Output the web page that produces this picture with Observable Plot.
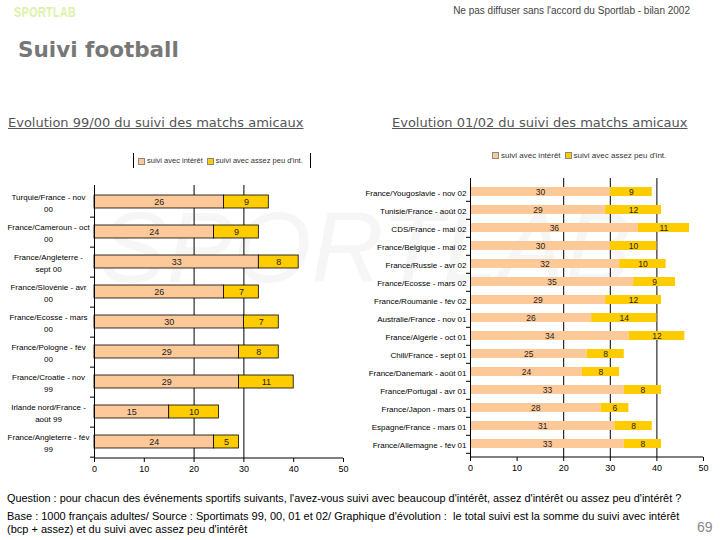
<!DOCTYPE html>
<html><head><meta charset="utf-8">
<script src="https://cdn.jsdelivr.net/npm/d3@7"></script>
<script src="https://cdn.jsdelivr.net/npm/@observablehq/plot@0.6"></script>
<style>
body{margin:0;width:720px;height:540px;position:relative;background:#fff;font-family:"Liberation Sans",Arial,sans-serif;overflow:hidden}
.abs{position:absolute;white-space:nowrap}
.chart{position:absolute;top:170px}
.sw{display:inline-block;width:5px;height:5px;border:1px solid #888;margin:0 2px 0 4px;vertical-align:middle}
</style></head><body>
<div class="abs" style="left:100px;top:190px;font:italic 100px 'Liberation Sans';color:#f6f6f6;z-index:0">SPORTLAB</div>
<div class="abs" style="left:14px;top:3px;font:bold 15px 'Liberation Sans';color:#dcf2a8;transform:scaleX(0.72);transform-origin:left top;letter-spacing:0.5px">SPORTLAB</div>
<div class="abs" style="right:30px;top:5px;font:10px 'Liberation Sans';color:#444">Ne pas diffuser sans l'accord du Sportlab - bilan 2002</div>
<div class="abs" style="left:18px;top:37px;font:bold 21.5px 'DejaVu Sans';color:#777">Suivi football</div>
<div class="abs" style="left:8px;top:115px;font:13px 'DejaVu Sans';color:#555;text-decoration:underline">Evolution 99/00 du suivi des matchs amicaux</div>
<div class="abs" style="left:392px;top:115px;font:13px 'DejaVu Sans';color:#555;text-decoration:underline">Evolution 01/02 du suivi des matchs amicaux</div>
<div class="abs" id="legL" style="left:133px;top:153px;height:15px;width:176px;border-left:1px solid #000;border-right:1px solid #000;font:7.5px 'Liberation Sans';color:#333;line-height:15px;z-index:2"></div>
<div class="abs" id="legR" style="left:488px;top:149px;height:14px;font:8px 'Liberation Sans';color:#333;line-height:14px;z-index:2"></div>
<div id="c1" class="chart" style="left:0px;z-index:1"></div>
<div id="c2" class="chart" style="left:360px;z-index:1"></div>
<div class="abs" style="left:7px;top:492px;font:10.9px 'Liberation Sans';color:#000">Question : pour chacun des événements sportifs suivants, l'avez-vous suivi avec beaucoup d'intérêt, assez d'intérêt ou assez peu d'intérêt ?</div>
<div class="abs" style="left:7px;top:510px;font:11px 'Liberation Sans';color:#000;line-height:13px">Base : 1000 français adultes/ Source : Sportimats 99, 00, 01 et 02/ Graphique d'évolution :&nbsp; le total suivi est la somme du suivi avec intérêt<br>(bcp + assez) et du suivi avec assez peu d'intérêt</div>
<div class="abs" style="left:697px;top:519px;font:14px 'Liberation Sans';color:#888">69</div>
<script>
const series = ["suivi avec intérêt", "suivi avec assez peu d'int."];
const colors = ["#fdc998", "#ffcc00"];
const xTicks = [0, 10, 20, 30, 40, 50];

const catsLeft = ["Turquie/France - nov 00", "France/Cameroun - oct 00", "France/Angleterre - sept 00", "France/Slovénie - avr 00", "France/Ecosse - mars 00", "France/Pologne - fév 00", "France/Croatie - nov 99", "Irlande nord/France - août 99", "France/Angleterre - fév 99"];
const labelsLeft = ["Turquie/France - nov\n00", "France/Cameroun - oct\n00", "France/Angleterre -\nsept 00", "France/Slovénie - avr\n00", "France/Ecosse - mars\n00", "France/Pologne - fév\n00", "France/Croatie - nov\n99", "Irlande nord/France -\naoût 99", "France/Angleterre - fév\n99"];
const interestLeft = [26, 24, 33, 26, 30, 29, 29, 15, 24];
const peuLeft = [9, 9, 8, 7, 7, 8, 11, 10, 5];
const gridLeft = [20, 30];

const catsRight = ["France/Yougoslavie - nov 02", "Tunisie/France - août 02", "CDS/France - mai 02", "France/Belgique - mai 02", "France/Russie - avr 02", "France/Ecosse - mars 02", "France/Roumanie - fév 02", "Australie/France - nov 01", "France/Algérie - oct 01", "Chili/France - sept 01", "France/Danemark - août 01", "France/Portugal - avr 01", "France/Japon - mars 01", "Espagne/France - mars 01", "France/Allemagne - fév 01"];
const interestRight = [30, 29, 36, 30, 32, 35, 29, 26, 34, 25, 24, 33, 28, 31, 33];
const peuRight = [9, 12, 11, 10, 10, 9, 12, 14, 12, 8, 8, 8, 6, 8, 8];
const gridRight = [20, 30, 40];

function chart(o) {
  const rows = o.cats.flatMap((c, i) => [
    {cat: c, s: series[0], v: o.interest[i]},
    {cat: c, s: series[1], v: o.peu[i]}
  ]);
  const step = (o.height - o.marginTop - o.marginBottom) / o.cats.length;
  const bottomLine = (index, scales, values, dims) => {
    const g = d3.create("svg:g");
    g.append("line")
      .attr("x1", dims.marginLeft).attr("x2", dims.width - dims.marginRight)
      .attr("y1", dims.height - dims.marginBottom).attr("y2", dims.height - dims.marginBottom)
      .attr("stroke", "#000");
    return g.node();
  };
  return Plot.plot({
    width: 360, height: o.height,
    marginLeft: o.marginLeft, marginRight: 17, marginTop: o.marginTop, marginBottom: o.marginBottom,
    style: {fontFamily: "Liberation Sans, Arial, sans-serif", background: "transparent", color: "#000"},
    x: {domain: [0, 50]},
    y: {domain: o.cats, paddingInner: o.pad, paddingOuter: o.pad / 2},
    color: {domain: series, range: colors},
    marks: [
      Plot.ruleX(o.grid, {stroke: "#000", strokeWidth: 1}),
      Plot.barX(rows, Plot.stackX({y: "cat", x: "v", fill: "s", stroke: o.barStroke, strokeWidth: 0.8})),
      Plot.text(rows, Plot.stackX({y: "cat", x: "v", z: "s", text: d => String(d.v), fontSize: o.valSize, fill: "#222"})),
      Plot.ruleX([0], {stroke: "#000"}),
      bottomLine,
      Plot.axisX({ticks: xTicks, tickSize: 4, tickPadding: 3, fontSize: 9, label: null}),
      Plot.axisY({tickSize: 0, tickPadding: 0, label: null, fontSize: o.labSize, textAnchor: o.anchor, dx: o.labDx, lineHeight: 1.5,
        tickFormat: d => o.labels[o.cats.indexOf(d)]}),
      Plot.axisY({tickSize: 4, tickFormat: () => "", label: null, dy: step / 2})
    ]
  });
}

document.getElementById("c1").append(chart({
  cats: catsLeft, labels: labelsLeft, interest: interestLeft, peu: peuLeft, grid: gridLeft,
  height: 310, marginLeft: 94, marginTop: 15, marginBottom: 22, pad: 0.57,
  barStroke: "#000", valSize: 9, labSize: 8, anchor: "middle", labDx: -46
}));
document.getElementById("c2").append(chart({
  cats: catsRight, labels: catsRight, interest: interestRight, peu: peuRight, grid: gridRight,
  height: 310, marginLeft: 110, marginTop: 8, marginBottom: 23, pad: 0.5,
  barStroke: null, valSize: 8.5, labSize: 8, anchor: "end", labDx: -4
}));

for (const id of ["legL", "legR"]) {
  const el = document.getElementById(id);
  series.forEach((s, i) => {
    const sw = document.createElement("span");
    sw.className = "sw"; sw.style.background = colors[i];
    const t = document.createElement("span"); t.textContent = s;
    el.append(sw, t);
  });
}
</script>
</body></html>
